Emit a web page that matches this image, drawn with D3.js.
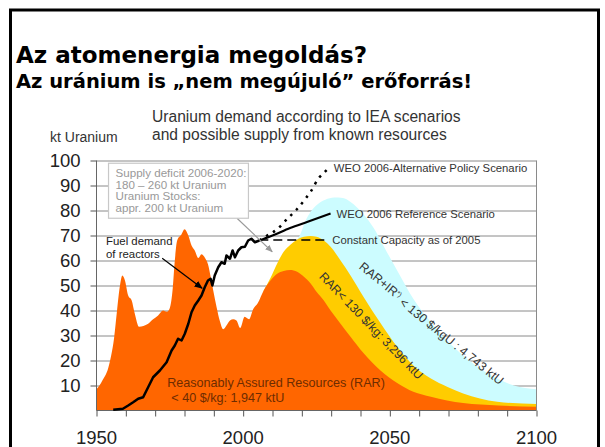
<!DOCTYPE html>
<html>
<head>
<meta charset="utf-8">
<script src="https://cdn.jsdelivr.net/npm/d3@7"></script>
<style>
  body { margin: 0; background: #fff; }
  svg { display: block; }
</style>
</head>
<body>
<div id="chart"></div>
<script>
// --- texts ---
const titleMain = 'Az atomenergia megoldás?';
const titleSub = 'Az uránium is „nem megújuló” erőforrás!';
const chartTitle = ['Uranium demand according to IEA scenarios', 'and possible supply from known resources'];
const yLabel = 'kt Uranium';
const yTicks = [10, 20, 30, 40, 50, 60, 70, 80, 90, 100];
const xLabels = [1950, 2000, 2050, 2100];
const xTicks = [1950, 1960, 1970, 1980, 1990, 2000, 2010, 2020, 2030, 2040, 2050, 2060, 2070, 2080, 2090, 2100];
const deficitNote = ['Supply deficit 2006-2020:', '180 – 260 kt Uranium', 'Uranium Stocks:', 'appr. 200 kt Uranium'];
const demandNote = ['Fuel demand', 'of reactors'];

// --- orange: historic production + RAR < 40 $/kg ---
const rarYears = [1950, 1951, 1952, 1954, 1955, 1956, 1957, 1958, 1958.8, 1959.7, 1960.8, 1962, 1963, 1964.5, 1966, 1967.6,
  1969.3, 1971, 1972.7, 1974, 1975, 1976, 1976.7, 1977.5, 1979, 1980, 1981.3, 1982.4, 1983.5, 1984.7, 1985.8, 1987,
  1988, 1989, 1989.8, 1991, 1992, 1993.2, 1994.3, 1995.5, 1996.6, 1997.7, 1999, 2000.5, 2002, 2003.4, 2005, 2007,
  2009.3, 2011.6, 2013.8, 2016, 2018.4, 2020.7, 2023, 2025, 2027.5, 2029.8, 2033, 2036.6, 2041, 2046.8, 2052.5, 2058,
  2064, 2069.5, 2075, 2087, 2100];
const rarValues = [8.5, 10, 12, 17, 22, 29, 40, 50, 54, 52, 46, 44, 39, 33.5, 33.8, 34.7,
  36.5, 38, 40, 39.5, 41, 49, 60, 68, 70.5, 72.5, 70, 66, 64, 61, 62.5, 61,
  58.5, 53, 48, 41, 36, 32.5, 34, 36, 36.5, 36, 33, 37.5, 36.5, 40.5, 43, 48,
  52, 54.7, 55.8, 56.2, 55.5, 53.5, 50.8, 47.5, 44, 40, 35, 29.5, 23, 16, 11, 7.5,
  5.5, 4, 3, 2, 1.5];

// --- yellow: RAR < 130 $/kg ---
const rar130Years = [2007, 2009.3, 2011.6, 2013.8, 2016, 2018.4, 2020.7, 2023, 2025, 2027.5, 2029.8, 2033.2, 2036.6,
  2041, 2046.8, 2052.5, 2058, 2064, 2069.5, 2075, 2080.7, 2086.6, 2100];
const rar130Values = [48, 53, 58.8, 63.5, 66.2, 68.4, 69.5, 69.8, 69.5, 68, 65.5, 60, 54,
  45.5, 35, 25.5, 18, 12.8, 9.5, 6.8, 4.8, 3.5, 2.6];

// --- cyan: RAR + IR < 130 $/kgU ---
const irYears = [2008, 2012, 2016, 2019.5, 2021.3, 2023, 2025.4, 2028, 2031, 2034, 2036.5, 2039, 2041, 2044.5, 2048,
  2052.5, 2058, 2064, 2069.5, 2075, 2080.7, 2086.6, 2092.3, 2100];
const irValues = [49, 58, 65, 70.5, 76, 79.5, 82.5, 84.3, 85.2, 85, 83.5, 81, 78.5, 73, 65.5,
  56, 44.7, 35.3, 28, 22, 16.8, 12.8, 10, 8.5];

// --- fuel demand of reactors ---
const demandYears = [1955.7, 1959, 1960.8, 1962.5, 1964.2, 1965.9, 1967.6, 1969.3, 1971.6, 1973.9, 1975.6, 1976.7, 1977.8,
  1979, 1980.1, 1981.3, 1982.4, 1983.5, 1984.7, 1985.8, 1986.9, 1988, 1988.9, 1989.5, 1990.3, 1991.5, 1992.6, 1993.7,
  1994.3, 1995.5, 1996.4, 1997.2, 1998.3, 1999.4, 2000.6, 2001.7, 2002.8, 2004, 2005.5];
const demandValues = [0.3, 0.7, 2, 3.3, 4.7, 5.3, 9.3, 13.3, 16, 19.3, 24, 26, 28.7,
  28, 30.7, 34.7, 39.3, 42, 44, 46, 49.3, 52, 52.7, 50, 54, 57.3, 59.3, 58.7,
  62, 60.7, 64, 61.3, 64, 65.3, 65.5, 68, 68.7, 67.3, 68];

// --- WEO 2006 scenarios ---
const refYears = [2005.5, 2010, 2016, 2022, 2029.8];
const refValues = [68, 70, 73, 75.5, 78.8];
const altYears = [2005.5, 2008.2, 2011.6, 2014.9, 2018.3, 2021.1, 2023, 2025.8, 2027.5, 2029.2];
const altValues = [68, 70, 72.5, 76.5, 80.5, 84.5, 87.5, 93, 95, 97];
const constYears = [2005.5, 2029];
const constValues = [68.2, 68.2];

const W = 605, H = 447;
const svg = d3.select('#chart').append('svg').attr('width', W).attr('height', H)
  .style('font-family', '"Liberation Sans", Arial, sans-serif');

svg.append('rect').attr('width', W).attr('height', H).attr('fill', '#fff');

// slide frame
svg.append('rect')
  .attr('x', 10.5).attr('y', 10).attr('width', 588).attr('height', 460)
  .attr('fill', 'none').attr('stroke', '#000').attr('stroke-width', 3);

// slide titles
svg.append('text').attr('x', 16).attr('y', 63)
  .style('font-family', '"DejaVu Sans", Verdana, sans-serif').style('font-weight', 'bold')
  .style('font-size', '23px').attr('fill', '#000').text(titleMain);
svg.append('text').attr('x', 16).attr('y', 88)
  .style('font-family', '"DejaVu Sans", Verdana, sans-serif').style('font-weight', 'bold')
  .style('font-size', '19.5px').attr('fill', '#000').text(titleSub);

const x = d3.scaleLinear().domain([1950, 2100]).range([96.5, 536.5]);
const y = d3.scaleLinear().domain([0, 100]).range([410.5, 160.5]);

// chart title + unit
chartTitle.forEach((t, i) => {
  svg.append('text').attr('x', 152).attr('y', 122 + i * 18)
    .style('font-size', '15.6px').attr('fill', '#333').text(t);
});
svg.append('text').attr('x', 50).attr('y', 142)
  .style('font-size', '14px').attr('fill', '#333').text(yLabel);

// gridlines
svg.append('g')
  .attr('transform', `translate(${x(1950)},0)`)
  .call(d3.axisLeft(y).tickValues(yTicks).tickSize(-(x(2100) - x(1950))).tickFormat(''))
  .call(g => g.select('.domain').remove())
  .call(g => g.selectAll('line').attr('stroke', '#8a8a8a'));

// resource areas (back to front)
const area = d3.area().x(d => x(d[0])).y0(y(0)).y1(d => y(d[1])).curve(d3.curveMonotoneX);
const zip = (a, b) => a.map((v, i) => [v, b[i]]);

svg.append('path').datum(zip(irYears, irValues)).attr('fill', '#ccfcff').attr('d', area);
svg.append('path').datum(zip(rar130Years, rar130Values)).attr('fill', '#ffcc00').attr('d', area);
svg.append('path').datum(zip(rarYears, rarValues)).attr('fill', '#ff6600').attr('d', area);

// axes
const yAxis = svg.append('g')
  .attr('transform', `translate(${x(1950)},0)`)
  .call(d3.axisLeft(y).tickValues(yTicks).tickSize(6).tickPadding(10).tickFormat(d3.format('d')));
yAxis.select('.domain').attr('stroke', '#666').attr('d', `M0,${y(0)}V${y(100)}`);
yAxis.selectAll('line').attr('stroke', '#555');
yAxis.selectAll('text').style('font-size', '18.5px').style('font-family', '"Liberation Sans", Arial, sans-serif')
  .attr('fill', '#222').attr('dy', '0.35em');

const xAxis = svg.append('g')
  .attr('transform', `translate(0,${y(0)})`)
  .call(d3.axisBottom(x).tickValues(xTicks).tickSize(6).tickFormat(''));
xAxis.select('.domain').attr('stroke', '#666').attr('d', `M${x(1950)},0H${x(2100)}`);
xAxis.selectAll('line').attr('stroke', '#555');
xAxis.selectAll('.lbl').data(xLabels).enter().append('text')
  .attr('x', d => x(d)).attr('y', 33).attr('text-anchor', 'middle')
  .style('font-size', '18.5px').attr('fill', '#222').text(d => d);

// right frame line
svg.append('line').attr('x1', x(2100)).attr('x2', x(2100)).attr('y1', y(100)).attr('y2', y(0))
  .attr('stroke', '#8a8a8a');

// demand lines
const line = d3.line().x(d => x(d[0])).y(d => y(d[1]));
svg.append('path').datum(zip(demandYears, demandValues))
  .attr('fill', 'none').attr('stroke', '#000').attr('stroke-width', 2.5).attr('stroke-linejoin', 'round')
  .attr('d', line);
svg.append('path').datum(zip(refYears, refValues))
  .attr('fill', 'none').attr('stroke', '#000').attr('stroke-width', 2.2)
  .attr('d', line.curve(d3.curveMonotoneX));
svg.append('path').datum(zip(altYears, altValues))
  .attr('fill', 'none').attr('stroke', '#000').attr('stroke-width', 2.5).attr('stroke-dasharray', '2.5 5.5')
  .attr('d', line.curve(d3.curveMonotoneX));
svg.append('path').datum(zip(constYears, constValues))
  .attr('fill', 'none').attr('stroke', '#000').attr('stroke-width', 1.6).attr('stroke-dasharray', '9 5')
  .attr('d', line.curve(d3.curveLinear));

// scenario labels
const labelFont = '11.3px';
svg.append('text').attr('x', x(altYears[altYears.length - 1]) + 5).attr('y', y(altValues[altValues.length - 1]) + 4)
  .style('font-size', labelFont).attr('fill', '#333').text('WEO 2006-Alternative Policy Scenario');
svg.append('text').attr('x', x(refYears[refYears.length - 1]) + 6).attr('y', y(refValues[refValues.length - 1]) + 4)
  .style('font-size', labelFont).attr('fill', '#333').text('WEO 2006 Reference Scenario');
svg.append('text').attr('x', x(constYears[1]) + 4).attr('y', y(constValues[1]) + 4)
  .style('font-size', labelFont).attr('fill', '#333').text('Constant Capacity as of 2005');

// arrowheads
const defs = svg.append('defs');
[['arrowBlack', '#000'], ['arrowGray', '#999']].forEach(([id, c]) => {
  defs.append('marker').attr('id', id).attr('viewBox', '0 0 10 10').attr('refX', 9).attr('refY', 5)
    .attr('markerWidth', 7).attr('markerHeight', 7).attr('orient', 'auto')
    .append('path').attr('d', 'M0,1L10,5L0,9Z').attr('fill', c);
});

// supply deficit note
svg.append('line')
  .attr('x1', x(1997.9)).attr('y1', y(76.9)).attr('x2', x(2009.9)).attr('y2', y(63.5))
  .attr('stroke', '#999').attr('stroke-width', 1.1).attr('marker-end', 'url(#arrowGray)');
svg.append('rect')
  .attr('x', x(1954.1)).attr('y', y(98.9)).attr('width', x(2001.8) - x(1954.1)).attr('height', y(76.9) - y(98.9))
  .attr('fill', '#fff').attr('stroke', '#c8c8c8').attr('stroke-width', 1.2);
deficitNote.forEach((t, i) => {
  svg.append('text').attr('x', x(1954.1) + 7).attr('y', y(98.9) + 13.5 + i * 11.8)
    .style('font-size', '11.6px').attr('fill', '#999').text(t);
});

// fuel demand note
demandNote.forEach((t, i) => {
  svg.append('text').attr('x', 106).attr('y', 245 + i * 12.5)
    .style('font-size', '11.4px').attr('fill', '#222').text(t);
});
svg.append('line')
  .attr('x1', x(1972.4)).attr('y1', y(60.9)).attr('x2', x(1986)).attr('y2', y(48.9))
  .attr('stroke', '#000').attr('stroke-width', 1.2).attr('marker-end', 'url(#arrowBlack)');

// resource labels
svg.append('text').attr('x', x(1974.1)).attr('y', y(9.4))
  .style('font-size', '12.6px').attr('fill', '#6e2c00').text('Reasonably Assured Resources (RAR)');
svg.append('text').attr('x', x(1975.5)).attr('y', y(3.6))
  .style('font-size', '12.6px').attr('fill', '#6e2c00').text('< 40 $/kg: 1,947 ktU');

svg.append('text')
  .attr('transform', `translate(${x(2043.7)},${y(33.9)}) rotate(46)`)
  .attr('text-anchor', 'middle').attr('dy', '0.35em')
  .style('font-size', '12.3px').attr('fill', '#333').text('RAR< 130 $/kg: 3,296 ktU');

const irLabel = svg.append('text')
  .attr('transform', `translate(${x(2064.5)},${y(35.2)}) rotate(39)`)
  .attr('text-anchor', 'middle').attr('dy', '0.35em')
  .style('font-size', '12.3px').attr('fill', '#333');
irLabel.append('tspan').text('RAR+IR');
irLabel.append('tspan').attr('dy', '-0.45em').style('font-size', '7px').text('*)');
irLabel.append('tspan').attr('dy', '0.45em').text('  < 130 $/kgU : 4,743 ktU');
</script>
</body>
</html>
